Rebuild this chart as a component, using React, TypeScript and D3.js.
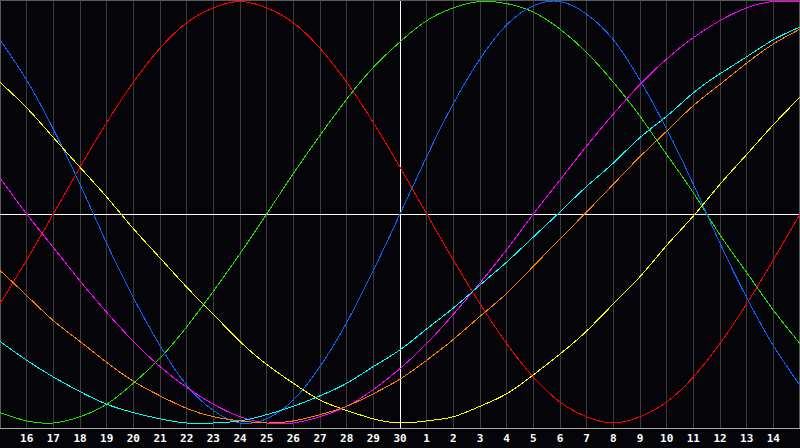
import React from 'react';
import * as d3 from 'd3';

// day labels under gridlines 1..29 (gridline 0 and 30 are the chart edges)
const dayLabels = [
  '16', '17', '18', '19', '20', '21', '22', '23', '24', '25', '26', '27', '28', '29', '30',
  '1', '2', '3', '4', '5', '6', '7', '8', '9', '10', '11', '12', '13', '14',
];

// values read at each gridline (0..30), in percent
const physical = [82, 63, 40, 14, -14, -40, -63, -82, -94, -100, -98, -89, -73, -52, -27, 0, 27, 52, 73, 89, 98, 100, 94, 82, 63, 40, 14, -14, -40, -63, -82];
const emotional = [-43, -22, 0, 22, 43, 62, 78, 90, 97, 100, 97, 90, 78, 62, 43, 22, 0, -22, -43, -62, -78, -90, -97, -100, -97, -90, -78, -62, -43, -22, 0];
const intellectual = [-95, -99, -100, -97, -91, -81, -69, -54, -37, -19, 0, 19, 37, 54, 69, 81, 91, 97, 100, 99, 95, 87, 76, 62, 46, 28, 10, -10, -28, -46, -62];
const intuitive = [17, 0, -16, -32, -47, -61, -73, -83, -91, -97, -100, -100, -97, -92, -84, -74, -62, -48, -33, -17, 0, 16, 32, 47, 61, 73, 83, 91, 97, 100, 100];
const aesthetic = [62, 50, 36, 22, 8, -7, -21, -35, -48, -61, -72, -81, -89, -94, -98, -100, -99, -97, -92, -86, -77, -67, -56, -43, -30, -15, -1, 14, 28, 42, 55];
const spiritual = [-61, -70, -78, -85, -91, -95, -98, -100, -100, -99, -96, -92, -87, -81, -73, -65, -55, -45, -34, -23, -11, 1, 13, 24, 36, 46, 57, 66, 74, 82, 88];
const awareness = [-27, -39, -51, -61, -71, -80, -87, -93, -97, -99, -100, -99, -96, -92, -86, -79, -70, -60, -49, -38, -25, -12, 1, 14, 27, 39, 51, 61, 71, 80, 87];

const series = [
  { name: 'emotional', color: '#ff0000', values: emotional },
  { name: 'intellectual', color: '#22e000', values: intellectual },
  { name: 'physical', color: '#0a64ff', values: physical },
  { name: 'aesthetic', color: '#ffff00', values: aesthetic },
  { name: 'intuitive', color: '#ff00ff', values: intuitive },
  { name: 'spiritual', color: '#00ffff', values: spiritual },
  { name: 'awareness', color: '#ff8000', values: awareness },
];

const W = 800;
const H = 448;
const plotBottom = 428;

export default function App() {
  const x = d3.scaleLinear().domain([0, 30]).range([0, W]);
  const y = d3.scaleLinear().domain([-100, 0, 100]).range([423, 214, 1.5]);

  const line = d3
    .line<number>()
    .x((_, i) => x(i))
    .y((d) => y(d))
    .curve(d3.curveNatural);

  const grid = d3.range(1, 30);
  const midY = Math.round(y(0)) + 0.5;

  return (
    <svg
      width={W}
      height={H}
      style={{ position: 'absolute', left: 0, top: 0, display: 'block', background: '#050408' }}
    >
      <rect x={0} y={0} width={W} height={H} fill="#050408" />
      {/* vertical day gridlines */}
      {grid.map((k) => (
        <line
          key={k}
          x1={Math.floor(x(k)) + 0.5}
          x2={Math.floor(x(k)) + 0.5}
          y1={0}
          y2={plotBottom}
          stroke={k === 15 ? '#ffffff' : '#3c3c3c'}
          strokeWidth={1}
          shapeRendering="crispEdges"
        />
      ))}
      {/* frame */}
      <rect
        x={0.5}
        y={0.5}
        width={W - 1}
        height={plotBottom - 0.5}
        fill="none"
        stroke="#5a5a5a"
        strokeWidth={1}
        shapeRendering="crispEdges"
      />
      <line x1={0} x2={W} y1={plotBottom + 0.5} y2={plotBottom + 0.5} stroke="#a8a8a8" shapeRendering="crispEdges" />
      {/* zero line */}
      <line x1={0} x2={W} y1={midY} y2={midY} stroke="#ffffff" shapeRendering="crispEdges" />
      <g>
        {series.map((s) => (
          <path
            key={s.name}
            d={line(s.values) || ''}
            fill="none"
            stroke={s.color}
            strokeWidth={1}
            shapeRendering="crispEdges"
          />
        ))}
      </g>
      <g fontFamily="'DejaVu Sans Mono', monospace" fontWeight="bold" fontSize={11} fill="#ffffff">
        {dayLabels.map((t, i) => (
          <text key={i} x={x(i + 1)} y={442} textAnchor="middle">
            {t}
          </text>
        ))}
      </g>
    </svg>
  );
}
